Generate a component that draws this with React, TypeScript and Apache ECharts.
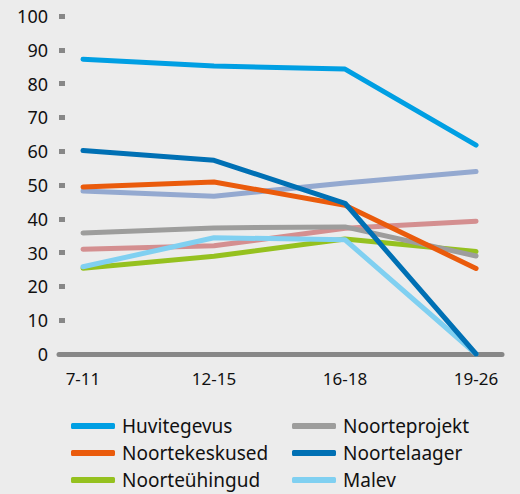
import React, { useEffect, useRef } from "react";
import * as echarts from "echarts";

const categories = ["7-11", "12-15", "16-18", "19-26"];
const yTicks = [0, 10, 20, 30, 40, 50, 60, 70, 80, 90, 100];

const huvitegevus = [87.2, 85.2, 84.3, 61.8];
const noortelaager = [60.2, 57.3, 44.6, 0];
const noortekeskused = [49.4, 50.9, 44.0, 25.3];
const lillaSari = [48.2, 46.7, 50.6, 54.0];
const noorteprojekt = [35.8, 37.3, 37.6, 29.0];
const roosaSari = [31.0, 32.0, 37.2, 39.3];
const malev = [25.8, 34.4, 33.8, 0];
const noorteuhingud = [25.4, 28.9, 34.0, 30.3];

const FONT = "'Noto Sans', sans-serif";

export default function App() {
  const ref = useRef<HTMLDivElement>(null);
  useEffect(() => {
    document.body.style.margin = "0";
    const chart = echarts.init(ref.current!, undefined, { renderer: "svg" });
    const mk = (name: string, data: number[], color: string, z: number) => ({
      name,
      type: "line",
      data: data.map((v, i) => [i, v]),
      symbol: "none",
      z,
      itemStyle: { color },
      lineStyle: { color, width: 5, cap: "round", join: "round" },
    });
    const legendCommon = {
      orient: "vertical",
      top: 410,
      height: 150,
      icon: "roundRect",
      itemWidth: 44,
      itemHeight: 6,
      itemGap: 5,
      selectedMode: false,
      textStyle: { fontFamily: FONT, fontSize: 19, color: "#111", lineHeight: 22, padding: [0, 0, 0, 2] },
    };
    chart.setOption({
      animation: false,
      backgroundColor: "#ececec",
      textStyle: { fontFamily: FONT },
      grid: { left: 59, right: 18, top: 16, bottom: 140 },
      legend: [
        { ...legendCommon, left: 66, data: ["Huvitegevus", "Noortekeskused", "Noorteühingud"] },
        { ...legendCommon, left: 287, data: ["Noorteprojekt", "Noortelaager", "Malev"] },
      ],
      xAxis: {
        type: "value",
        min: -0.183,
        max: 3.198,
        splitLine: { show: false },
        axisLine: { show: true, lineStyle: { color: "#878787", width: 5 } },
        axisTick: { show: false },
        axisLabel: {
          customValues: [0, 1, 2, 3],
          formatter: (v: number) => categories[Math.round(v)] ?? "",
          fontSize: 17,
          color: "#111",
          margin: 16,
          fontFamily: FONT,
        },
      },
      yAxis: {
        type: "value",
        min: 0,
        max: 100,
        interval: 10,
        splitLine: { show: false },
        axisLine: { show: false, onZero: false },
        axisTick: {
          show: true,
          inside: true,
          length: 6,
          customValues: yTicks,
          lineStyle: { color: "#878787", width: 5 },
        },
        axisLabel: { fontSize: 18, color: "#111", margin: 11, fontFamily: FONT, customValues: yTicks },
      },
      series: [
        mk("Noorteühingud", noorteuhingud, "#95c11f", 2),
        mk("Roosa", roosaSari, "#d48f90", 3),
        mk("Noorteprojekt", noorteprojekt, "#9d9d9c", 4),
        mk("Malev", malev, "#80d0f1", 5),
        mk("Lilla", lillaSari, "#94a9d0", 6),
        mk("Noortekeskused", noortekeskused, "#ea5b0c", 7),
        mk("Noortelaager", noortelaager, "#0070b4", 8),
        mk("Huvitegevus", huvitegevus, "#009fe3", 9),
      ],
    });
    return () => chart.dispose();
  }, []);
  return <div ref={ref} style={{ width: 520, height: 494, position: "absolute", left: 0, top: 0 }} />;
}
